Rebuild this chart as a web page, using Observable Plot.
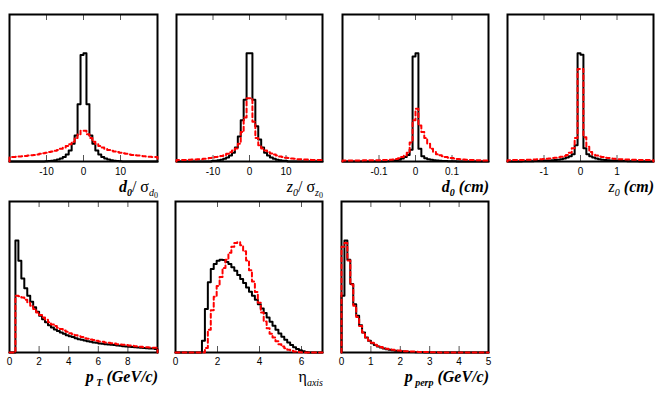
<!DOCTYPE html>
<html><head><meta charset="utf-8">
<script src="https://cdn.jsdelivr.net/npm/d3@7"></script>
<script src="https://cdn.jsdelivr.net/npm/@observablehq/plot@0.6"></script>
<style>
body{margin:0;background:#fff;}
#wrap{position:relative;width:664px;height:396px;overflow:hidden;background:#fff;}
#wrap svg{position:absolute;overflow:visible;background:transparent;}
.ttl{position:absolute;font-family:"Liberation Serif","DejaVu Serif","Times New Roman",serif;font-size:16px;line-height:16px;white-space:nowrap;color:#000;text-align:right;}
.ttl sub{font-size:10px;vertical-align:-4px;line-height:0;}
.ttl sub sub{font-size:8px;vertical-align:-2px;}
.bi{font-weight:bold;font-style:italic;}
.it{font-style:italic;}
</style></head><body><div id="wrap"></div>
<script>
// ---- data: x ranges, tick labels, 50-bin histogram contents (fraction of panel height) ----
const d0sigRange = [-20, 20];
const d0sigTicks = [-10, 0, 10];
const d0sigBlack = [0,0,0,0,0,0,0,0,0,0,0,0,0.002,0.003,0.005,0.008,0.013,0.02,0.03,0.048,0.075,0.12,0.177,0.39,0.725,0.737,0.39,0.177,0.12,0.075,0.048,0.03,0.02,0.013,0.008,0.005,0.003,0.002,0,0,0,0,0,0,0,0,0,0,0,0];
const d0sigRed = [0.03,0.031,0.032,0.034,0.036,0.038,0.04,0.042,0.045,0.048,0.052,0.056,0.06,0.064,0.068,0.073,0.079,0.086,0.095,0.105,0.118,0.135,0.16,0.185,0.21,0.21,0.185,0.16,0.135,0.118,0.105,0.095,0.086,0.079,0.073,0.068,0.064,0.06,0.056,0.052,0.048,0.045,0.042,0.04,0.038,0.036,0.034,0.032,0.031,0.03];

const z0sigRange = [-20, 20];
const z0sigTicks = [-10, 0, 10];
const z0sigBlack = [0,0,0,0,0,0,0,0,0,0,0,0,0.003,0.005,0.008,0.012,0.018,0.027,0.04,0.06,0.095,0.17,0.28,0.42,0.737,0.737,0.42,0.24,0.15,0.095,0.06,0.04,0.027,0.018,0.012,0.008,0.005,0.003,0,0,0,0,0,0,0,0,0,0,0,0];
const z0sigRed = [0.01,0.01,0.011,0.011,0.012,0.013,0.014,0.015,0.016,0.018,0.02,0.023,0.026,0.03,0.033,0.038,0.045,0.052,0.063,0.075,0.088,0.12,0.2,0.3,0.43,0.43,0.27,0.16,0.11,0.088,0.075,0.063,0.055,0.047,0.04,0.034,0.03,0.026,0.023,0.02,0.018,0.016,0.015,0.014,0.013,0.012,0.011,0.011,0.01,0.01];

const d0cmRange = [-0.2, 0.2];
const d0cmTicks = [-0.1, 0, 0.1];
const d0cmBlack = [0,0,0,0,0,0,0,0,0,0,0,0,0,0,0,0.002,0.003,0.005,0.008,0.012,0.02,0.03,0.045,0.08,0.714,0.737,0.086,0.035,0.022,0.016,0.012,0.009,0.007,0.005,0.004,0.003,0.002,0.002,0.001,0,0,0,0,0,0,0,0,0,0,0];
const d0cmRed = [0.006,0.006,0.006,0.007,0.007,0.007,0.007,0.008,0.008,0.008,0.009,0.009,0.009,0.01,0.01,0.011,0.012,0.014,0.017,0.022,0.03,0.04,0.06,0.13,0.28,0.358,0.245,0.2,0.16,0.12,0.086,0.065,0.05,0.042,0.036,0.03,0.026,0.023,0.02,0.017,0.015,0.013,0.012,0.011,0.01,0.009,0.008,0.008,0.007,0.007];

const z0cmRange = [-2, 2];
const z0cmTicks = [-1, 0, 1];
const z0cmBlack = [0,0,0,0,0,0.001,0.001,0.002,0.002,0.003,0.003,0.004,0.005,0.006,0.007,0.008,0.01,0.012,0.015,0.02,0.027,0.035,0.05,0.11,0.737,0.727,0.09,0.05,0.035,0.027,0.02,0.015,0.012,0.01,0.008,0.007,0.006,0.005,0.004,0.003,0.003,0.002,0.002,0.001,0.001,0,0,0,0,0];
const z0cmRed = [0.009,0.01,0.01,0.01,0.011,0.011,0.012,0.012,0.013,0.014,0.015,0.016,0.017,0.019,0.021,0.023,0.026,0.029,0.033,0.038,0.045,0.06,0.09,0.16,0.63,0.63,0.165,0.1,0.065,0.048,0.04,0.034,0.03,0.026,0.023,0.021,0.019,0.017,0.016,0.015,0.014,0.013,0.012,0.012,0.011,0.011,0.01,0.01,0.01,0.009];

const ptRange = [0, 10];
const ptTicks = [0, 2, 4, 6, 8];
const ptBlack = [0,0,0.741,0.608,0.49,0.425,0.376,0.336,0.3,0.27,0.243,0.221,0.2,0.18,0.166,0.153,0.142,0.133,0.124,0.115,0.108,0.102,0.095,0.088,0.084,0.08,0.075,0.071,0.066,0.064,0.06,0.058,0.055,0.053,0.051,0.049,0.046,0.044,0.042,0.04,0.038,0.036,0.035,0.033,0.031,0.029,0.028,0.027,0.026,0.024];
const ptRed = [0,0,0.376,0.372,0.365,0.35,0.33,0.31,0.288,0.265,0.248,0.232,0.217,0.2,0.186,0.175,0.164,0.155,0.146,0.137,0.128,0.122,0.115,0.108,0.102,0.095,0.091,0.086,0.082,0.077,0.073,0.071,0.066,0.064,0.062,0.06,0.055,0.053,0.051,0.049,0.046,0.044,0.042,0.04,0.038,0.035,0.034,0.033,0.032,0.031];

const etaRange = [0, 7];
const etaTicks = [0, 2, 4, 6];
const etaBlack = [0,0,0,0,0,0,0,0,0,0.077,0.288,0.465,0.553,0.586,0.608,0.615,0.613,0.6,0.586,0.564,0.542,0.513,0.487,0.46,0.431,0.403,0.376,0.35,0.32,0.292,0.261,0.232,0.204,0.177,0.15,0.126,0.104,0.084,0.066,0.049,0.035,0.024,0.015,0.009,0.004,0,0,0,0,0];
const etaRed = [0,0,0,0,0,0,0,0,0,0,0.03,0.15,0.28,0.37,0.44,0.5,0.56,0.615,0.66,0.7,0.725,0.73,0.71,0.67,0.61,0.545,0.47,0.4,0.33,0.265,0.205,0.16,0.125,0.1,0.075,0.055,0.04,0.028,0.018,0.012,0.007,0.004,0.002,0,0,0,0,0,0,0];

const pperpRange = [0, 5];
const pperpTicks = [0, 1, 2, 3, 4, 5];
const pperpBlack = [0.376,0.741,0.615,0.454,0.32,0.243,0.18,0.133,0.1,0.077,0.062,0.049,0.04,0.033,0.027,0.022,0.018,0.015,0.012,0.01,0.008,0.006,0.005,0.004,0.003,0.002,0.002,0.001,0,0,0,0,0,0,0,0,0,0,0,0,0,0,0,0,0,0,0,0,0,0];
const pperpRed = [0.7,0.725,0.61,0.45,0.31,0.235,0.175,0.132,0.1,0.079,0.064,0.052,0.043,0.036,0.03,0.025,0.021,0.018,0.015,0.013,0.011,0.009,0.008,0.007,0.006,0.005,0.004,0.004,0.003,0.003,0.002,0.002,0.002,0,0,0,0,0,0,0,0,0,0,0,0,0,0,0,0,0];

// ---- layout ----
const panels = [
  {range:d0sigRange, ticks:d0sigTicks, black:d0sigBlack, red:d0sigRed, left:9, top:14, w:148, h:147, pad:6,
   title:'<span class="bi">d</span><sub class="bi">0</sub>/ σ<sub><span class="it">d</span><sub>0</sub></sub>'},
  {range:z0sigRange, ticks:z0sigTicks, black:z0sigBlack, red:z0sigRed, left:176, top:14, w:146, h:147, pad:6,
   title:'<span class="it">z</span><sub class="it">0</sub>/ σ<sub><span class="it">z</span><sub>0</sub></sub>'},
  {range:d0cmRange, ticks:d0cmTicks, black:d0cmBlack, red:d0cmRed, left:342, top:14, w:146, h:147, pad:6,
   title:'<span class="bi">d</span><sub class="bi">0</sub><span class="bi"> (cm)</span>'},
  {range:z0cmRange, ticks:z0cmTicks, black:z0cmBlack, red:z0cmRed, left:507, top:14, w:146, h:147, pad:6,
   title:'<span class="it">z</span><sub class="it">0</sub><span class="bi"> (cm)</span>'},
  {range:ptRange, ticks:ptTicks, black:ptBlack, red:ptRed, left:9, top:201, w:148, h:151, pad:5,
   title:'<span class="bi">p</span><sub class="bi">&nbsp;T</sub><span class="bi"> (GeV/c)</span>'},
  {range:etaRange, ticks:etaTicks, black:etaBlack, red:etaRed, left:175, top:201, w:147, h:151, pad:5,
   title:'η<sub class="it">axis</sub>'},
  {range:pperpRange, ticks:pperpTicks, black:pperpBlack, red:pperpRed, left:341, top:201, w:147, h:151, pad:5,
   title:'<span class="bi">p</span><sub class="bi">&nbsp;perp</sub><span class="bi"> (GeV/c)</span>'}
];

const wrap = document.getElementById("wrap");
const mL = 10, mR = 10, mT = 2, mB = 22, tickPx = 6;

function steps(range, vals) {
  const [x0, x1] = range;
  const bw = (x1 - x0) / vals.length;
  const pts = [{x: x0, y: 0}];
  vals.forEach((v, i) => pts.push({x: x0 + i * bw, y: v}));
  pts.push({x: x1, y: vals[vals.length - 1]});
  pts.push({x: x1, y: 0});
  return pts;
}

panels.forEach((p) => {
  const t = tickPx / p.h;
  const inner = p.ticks.filter(v => v > p.range[0] && v < p.range[1]);
  const svg = Plot.plot({
    width: p.w + mL + mR,
    height: p.h + mT + mB,
    marginLeft: mL, marginRight: mR, marginTop: mT, marginBottom: mB,
    style: {fontFamily: "'Liberation Sans', Arial, sans-serif", fontSize: "10px", background: "transparent", color: "#000"},
    x: {domain: p.range},
    y: {domain: [0, 1], axis: null},
    marks: [
      Plot.axisX(p.ticks, {anchor: "bottom", tickSize: 0, tickPadding: p.pad, tickFormat: d => String(d), fontSize: 10, label: null, fill: "#000"}),
      Plot.ruleX(inner, {x: d => d, y1: 0, y2: t, stroke: "#555", strokeWidth: 1}),
      Plot.ruleX(inner, {x: d => d, y1: 1 - t, y2: 1, stroke: "#555", strokeWidth: 1}),
      Plot.frame({stroke: "#000", strokeWidth: 2}),
      Plot.line(steps(p.range, p.black), {x: "x", y: "y", curve: "step-after", stroke: "#000", strokeWidth: 2}),
      Plot.line(steps(p.range, p.red), {x: "x", y: "y", curve: "step-after", stroke: "#ff0000", strokeWidth: 2, strokeDasharray: "4,3"})
    ]
  });
  svg.style.left = (p.left - mL) + "px";
  svg.style.top = (p.top - mT) + "px";
  wrap.appendChild(svg);

  const ttl = document.createElement("div");
  ttl.className = "ttl";
  ttl.innerHTML = p.title;
  const baseline = p.top < 100 ? 192 : 382;
  ttl.style.top = (baseline - 13.4) + "px";
  ttl.style.right = (664 - (p.left + p.w + 1)) + "px";
  wrap.appendChild(ttl);
});
</script></body></html>
